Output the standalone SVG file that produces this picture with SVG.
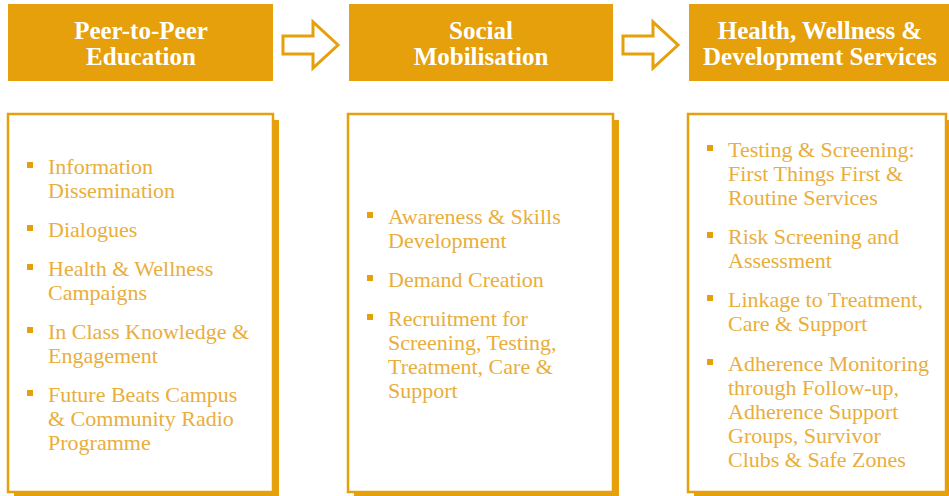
<svg xmlns="http://www.w3.org/2000/svg" width="949" height="496" viewBox="0 0 949 496">
<style>
.hdr{fill:#E5A00C}
.ht{font-family:"Liberation Serif",serif;font-weight:bold;font-size:25px;fill:#fff;text-anchor:middle}
.sh{fill:#E5A00C}
.box{fill:#fff;stroke:#E5A00C;stroke-width:2.5}
.bt{font-family:"Liberation Serif",serif;font-size:22px;fill:#E9AE3C}
.bl{fill:#E5A00C}
.arr{fill:#fff;stroke:#E5A00C;stroke-width:3;stroke-linejoin:miter}
</style>
<defs>
<rect id="sq" width="6" height="6" class="bl"/>
</defs>
<g id="connectors">
<path class="arr" d="M283,36 H313 V22 L338,45 L313,68 V54 H283 Z"/>
<path class="arr" d="M623,36 H653 V22 L678,45 L653,68 V54 H623 Z"/>
</g>
<g id="hdr1">
<rect class="hdr" x="8" y="4" width="265" height="77"/>
<text class="ht" x="141" y="39">Peer-to-Peer</text>
<text class="ht" x="141" y="65">Education</text>
</g>
<g id="hdr2">
<rect class="hdr" x="349" y="4" width="264" height="77"/>
<text class="ht" x="481" y="39">Social</text>
<text class="ht" x="481" y="65">Mobilisation</text>
</g>
<g id="hdr3">
<rect class="hdr" x="689" y="4" width="260" height="77"/>
<text class="ht" x="820" y="39">Health, Wellness &amp;</text>
<text class="ht" x="820" y="65">Development Services</text>
</g>
<g id="box1">
<rect class="sh" x="14" y="120" width="265" height="378"/>
<rect class="box" x="8" y="114" width="265" height="378"/>
<use href="#sq" x="27" y="162"/>
<text class="bt" x="48" y="174">Information</text>
<text class="bt" x="48" y="198">Dissemination</text>
<use href="#sq" x="27" y="225"/>
<text class="bt" x="48" y="237">Dialogues</text>
<use href="#sq" x="27" y="264"/>
<text class="bt" x="48" y="276">Health &amp; Wellness</text>
<text class="bt" x="48" y="300">Campaigns</text>
<use href="#sq" x="27" y="327"/>
<text class="bt" x="48" y="339">In Class Knowledge &amp;</text>
<text class="bt" x="48" y="363">Engagement</text>
<use href="#sq" x="27" y="390"/>
<text class="bt" x="48" y="402">Future Beats Campus</text>
<text class="bt" x="48" y="426">&amp; Community Radio</text>
<text class="bt" x="48" y="450">Programme</text>
</g>
<g id="box2">
<rect class="sh" x="354" y="120" width="265" height="378"/>
<rect class="box" x="348" y="114" width="265" height="378"/>
<use href="#sq" x="367" y="212"/>
<text class="bt" x="388" y="224">Awareness &amp; Skills</text>
<text class="bt" x="388" y="248">Development</text>
<use href="#sq" x="367" y="275"/>
<text class="bt" x="388" y="287">Demand Creation</text>
<use href="#sq" x="367" y="314"/>
<text class="bt" x="388" y="326">Recruitment for</text>
<text class="bt" x="388" y="350">Screening, Testing,</text>
<text class="bt" x="388" y="374">Treatment, Care &amp;</text>
<text class="bt" x="388" y="398">Support</text>
</g>
<g id="box3">
<rect class="sh" x="694" y="120" width="258" height="378"/>
<rect class="box" x="688" y="114" width="258" height="378"/>
<use href="#sq" x="707" y="145"/>
<text class="bt" x="728" y="157">Testing &amp; Screening:</text>
<text class="bt" x="728" y="181">First Things First &amp;</text>
<text class="bt" x="728" y="205">Routine Services</text>
<use href="#sq" x="707" y="232"/>
<text class="bt" x="728" y="244">Risk Screening and</text>
<text class="bt" x="728" y="268">Assessment</text>
<use href="#sq" x="707" y="295"/>
<text class="bt" x="728" y="307">Linkage to Treatment,</text>
<text class="bt" x="728" y="331">Care &amp; Support</text>
<use href="#sq" x="707" y="359"/>
<text class="bt" x="728" y="371">Adherence Monitoring</text>
<text class="bt" x="728" y="395">through Follow-up,</text>
<text class="bt" x="728" y="419">Adherence Support</text>
<text class="bt" x="728" y="443">Groups, Survivor</text>
<text class="bt" x="728" y="467">Clubs &amp; Safe Zones</text>
</g>
</svg>
